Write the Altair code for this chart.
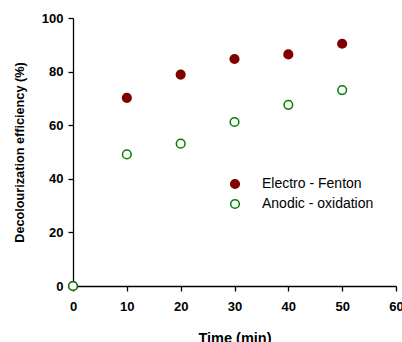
import altair as alt
import pandas as pd

time = [0, 10, 20, 30, 40, 50]
electro_fenton = [0, 70.2, 78.9, 84.7, 86.4, 90.4]
anodic_oxidation = [0, 49.1, 53.1, 61.2, 67.6, 73.1]
series_names = ["Electro - Fenton", "Anodic - oxidation"]

rows = []
for t, v in zip(time, electro_fenton):
    rows.append({"time": t, "value": v, "series": series_names[0]})
for t, v in zip(time, anodic_oxidation):
    rows.append({"time": t, "value": v, "series": series_names[1]})
df = pd.DataFrame(rows)

FONT = "Liberation Sans"

legend = alt.Legend(
    title=None,
    orient="none",
    legendX=155,
    legendY=159,
    labelFont=FONT,
    labelFontSize=14,
    labelColor="black",
    labelOffset=20,
    symbolSize=75,
    symbolStrokeWidth=1.5,
    rowPadding=4,
    padding=0,
)

chart = alt.Chart(df).mark_point(
    shape="circle", size=75, strokeWidth=1.5, opacity=1, fillOpacity=1
).encode(
    x=alt.X("time:Q", scale=alt.Scale(domain=[0, 60], nice=False),
            axis=alt.Axis(values=[0, 10, 20, 30, 40, 50, 60], title="Time (min)")),
    y=alt.Y("value:Q", scale=alt.Scale(domain=[0, 100], nice=False),
            axis=alt.Axis(values=[0, 20, 40, 60, 80, 100], title="Decolourization efficiency (%)")),
    stroke=alt.Stroke("series:N", scale=alt.Scale(domain=series_names, range=["#800000", "#008000"]), legend=legend),
    fill=alt.Fill("series:N", scale=alt.Scale(domain=series_names, range=["#800000", "#ffffff"]), legend=legend),
    order=alt.Order("order:Q"),
).transform_calculate(
    order="datum.series == 'Electro - Fenton' ? 0 : 1"
).properties(
    width=323, height=268,
    padding={"left": 73, "top": 18, "right": 6, "bottom": 56},
    autosize=alt.AutoSizeParams(type="none"),
).configure_view(
    stroke=None
).configure_axis(
    grid=False,
    domainColor="black",
    domainWidth=1.3,
    tickColor="black",
    tickWidth=1.3,
    tickSize=5,
    labelFont=FONT,
    labelFontSize=13,
    labelFontWeight="bold",
    labelColor="black",
    titleFont=FONT,
    titleFontWeight="bold",
    titleColor="black",
).configure_axisX(
    labelPadding=9,
    titlePadding=18,
    titleFontSize=14.5,
    labelFlush=False,
).configure_axisY(
    labelPadding=5,
    titlePadding=15,
    titleFontSize=12.7,
    labelFlush=False,
)

chart.save("out.html", embed_options={"renderer": "svg", "actions": False})
